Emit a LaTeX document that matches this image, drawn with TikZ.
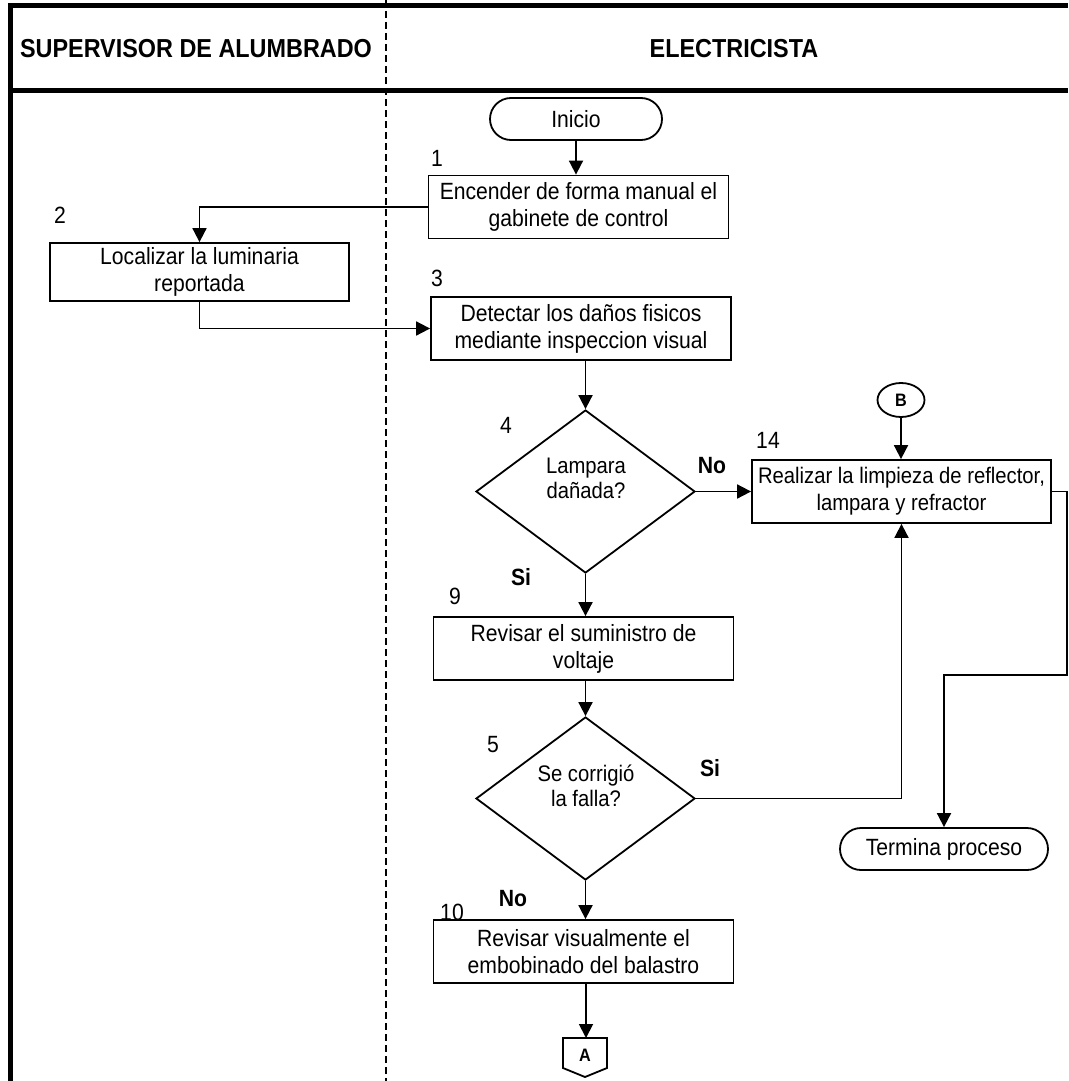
\documentclass[tikz,border=0pt]{standalone}
\usepackage{fontspec}
\setmainfont[FakeStretch=0.9]{Liberation Sans}
\usetikzlibrary{shapes.geometric,shapes.misc,arrows.meta}
\begin{document}
\begin{tikzpicture}[x=1pt,y=-1pt,
  every node/.style={font=\fontsize{23.5}{27}\selectfont},
  box/.style={draw,line width=1.8pt,rectangle,minimum height=63pt,minimum width=300pt,inner xsep=4pt,inner ysep=0pt,align=center},
  term/.style={draw,line width=1.8pt,rounded rectangle,minimum height=42pt,inner sep=0pt},
  dec/.style={draw,line width=1.8pt,diamond,minimum width=219pt,minimum height=163pt,inner sep=0pt},
  dectext/.style={align=center,inner sep=0pt,font=\fontsize{22.5}{25}\selectfont},
  lbl/.style={inner sep=0pt},
  yn/.style={inner sep=0pt,font=\fontsize{23.5}{27}\selectfont\bfseries},
  hdr/.style={inner sep=0pt,font=\fontsize{26}{30}\selectfont\bfseries},
  conntxt/.style={inner sep=0pt,font=\fontsize{18}{22}\selectfont\bfseries},
  conn/.style={line width=1.8pt,-{Triangle[length=14pt,width=14pt]}},
  plain/.style={line width=1.8pt},
  lane/.style={line width=5pt},
  lanediv/.style={line width=1.2pt,dash pattern=on 7pt off 4pt},
]
\useasboundingbox (0,0) rectangle (1068,1081);

% swimlane frame
\draw[lane] (10,1081) -- (10,6) -- (1068,6);
\draw[lane] (10,90) -- (1068,90);
\draw[lanediv] (386,0) -- (386,1081);
\node[hdr] (h1) at (196,49) {SUPERVISOR DE ALUMBRADO};
\node[hdr] (h2) at (734,49) {ELECTRICISTA};

% nodes
\node[term,minimum width=172pt] (start) at (576,119) {Inicio};
\node[box] (b1) at (578.5,207) {Encender de forma manual el\\gabinete de control};
\node[box,minimum height=58pt,minimum width=299pt] (b2) at (199.5,272) {Localizar la luminaria\\reportada};
\node[box] (b3) at (581,328.5) {Detectar los daños fisicos\\mediante inspeccion visual};
\node[dec] (d4) at (585.5,491.5) {};
\node[dectext] (d4t) at (586,478) {Lampara\\dañada?};
\node[draw,line width=1.8pt,ellipse,minimum width=47pt,minimum height=34pt,inner sep=0pt,conntxt] (B) at (901,400) {B};
\node[box,minimum width=299pt,font=\fontsize{22.5}{27}\selectfont] (b14) at (901.5,491.5) {Realizar la limpieza de reflector,\\lampara y refractor};
\node[box] (b9) at (583.5,648.5) {Revisar el suministro de\\voltaje};
\node[dec] (d5) at (585.5,798.5) {};
\node[dectext] (d5t) at (586,786) {Se corrigió\\la falla?};
\node[term,minimum width=208pt] (end) at (944,849) {Termina proceso};
\node[box] (b10) at (583.5,951.5) {Revisar visualmente el\\embobinado del balastro};

% off-page connector A
\draw[plain] (563,1038) -- (607,1038) -- (607,1068) -- (585,1077) -- (563,1068) -- cycle;
\node[conntxt] (A) at (585,1055) {A};
\coordinate (Atop) at (586,1038);
\coordinate (r1) at (1067,675);

% step numbers
\node[lbl] (n1) at (437,158) {1};
\node[lbl] (n2) at (60,215) {2};
\node[lbl] (n3) at (437,278) {3};
\node[lbl] (n4) at (506,425) {4};
\node[lbl] (n14) at (768,440) {14};
\node[lbl] (n9) at (455,596) {9};
\node[lbl] (n5) at (493,745) {5};
\node[lbl] (n10) at (452,912) {10};

% branch labels
\node[yn] (no1) at (712,466) {No};
\node[yn] (si1) at (521,577) {Si};
\node[yn] (si2) at (710,768) {Si};
\node[yn] (no2) at (513,899) {No};

% connectors
\draw[conn] (start.south) -- (start.south |- b1.north);
\draw[conn] (b1.west) -| (b2.north);
\draw[conn] (b2.south) |- (b3.west);
\draw[conn] (d4.north |- b3.south) -- (d4.north);
\draw[conn] (d4.east) -- (d4.east -| b14.west);
\draw[conn] (B.south) -- (B.south |- b14.north);
\draw[conn] (d4.south) -- (d4.south |- b9.north);
\draw[conn] (d5.north |- b9.south) -- (d5.north);
\draw[conn] (d5.east) -| (b14.south);
\draw[conn] (d5.south) -- (d5.south |- b10.north);
\draw[conn] (Atop |- b10.south) -- (Atop);
\draw[conn] (b14.east) -| (r1) -| (end.north);
\end{tikzpicture}
\end{document}
